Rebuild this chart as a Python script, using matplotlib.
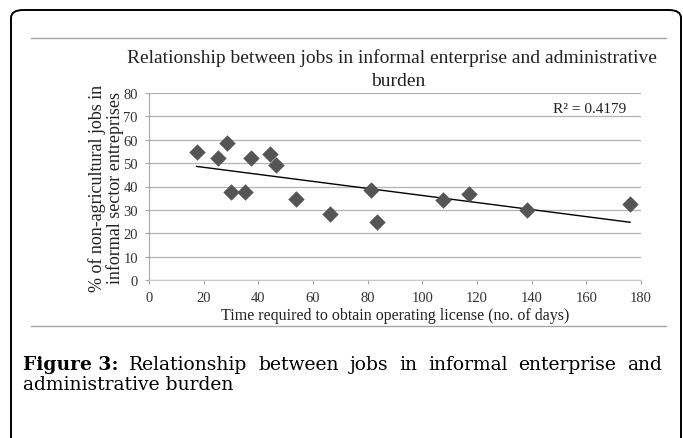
import numpy as np
import matplotlib.pyplot as plt
from matplotlib.patches import FancyBboxPatch
from matplotlib.lines import Line2D

# Days needed to get an operating license vs share of informal jobs
days = [17.4, 25.1, 28.4, 30.0, 35.2, 37.2, 44.2, 46.5, 53.9, 66.1, 81.1, 83.3,
        107.7, 117.1, 138.2, 176.0]
informal_pct = [54.6, 52.3, 58.6, 37.5, 37.5, 52.2, 53.9, 49.2, 34.7, 28.2, 38.5,
                24.7, 34.4, 36.8, 30.1, 32.5]
r2_text = "R² = 0.4179"
x_ticks = list(range(0, 181, 20))
y_ticks = list(range(0, 81, 10))

W, H = 683, 439
fig = plt.figure(figsize=(W / 100, H / 100), dpi=100)
serif = ["Liberation Serif", "DejaVu Serif"]
cap_font = ["DejaVu Serif"]

def fx(px):
    return px / W

def fy(py):
    return 1 - py / H

# outer frame with rounded corners (bottom runs off the page)
frame = FancyBboxPatch((fx(11), fy(470)), fx(670), (470 - 11) / H,
                       boxstyle="round,pad=0,rounding_size=0.018",
                       transform=fig.transFigure, fill=False,
                       edgecolor="black", linewidth=1.4, clip_on=False)
fig.patches.append(frame)

# thin rules above and below the chart
for py in (39, 327):
    fig.lines.append(Line2D([fx(31), fx(666)], [fy(py), fy(py)],
                            transform=fig.transFigure, color="#a6a6a6", lw=1.0))

ax = fig.add_axes([fx(149), fy(281), fx(641 - 149), (281 - 94) / H])
ax.scatter(days, informal_pct, marker="D", s=70, color="#555555", zorder=3,
           linewidths=0)

# linear trend line
k, b = np.polyfit(days, informal_pct, 1)
xs = np.array([min(days), max(days)])
ax.plot(xs, k * xs + b, color="black", lw=1.0, zorder=2)

ax.set_xlim(0, 180)
ax.set_ylim(0, 80)
ax.set_xticks(x_ticks)
ax.set_yticks(y_ticks)
ax.grid(axis="y", color="#b3b3b3", lw=0.9)
ax.set_axisbelow(True)
for s in ("top", "right"):
    ax.spines[s].set_visible(False)
ax.spines["left"].set_color("#a6a6a6")
ax.spines["bottom"].set_color("#c8c8c8")
ax.tick_params(axis="both", colors="#a6a6a6", length=3, width=0.8,
               labelcolor="#333333", labelsize=10.5)
ax.tick_params(axis="x", pad=5)
ax.tick_params(axis="y", pad=5)
for lab in ax.get_xticklabels() + ax.get_yticklabels():
    lab.set_family(serif)

ax.text(0.97, 0.918, r2_text, transform=ax.transAxes, ha="right", va="center",
        fontsize=11, family=serif, color="#222222")

fig.text(fx(392), fy(58), "Relationship between jobs in informal enterprise and administrative",
         ha="center", va="center", fontsize=14, family=serif, color="#222222")
fig.text(fx(398), fy(82), "burden", ha="center", va="center", fontsize=14,
         family=serif, color="#222222")
fig.text(fx(106), fy(188), "% of non-agricultural jobs in\ninformal sector entreprises",
         rotation=90, ha="center", va="center", fontsize=13, family=serif,
         color="#222222", linespacing=0.95)
fig.text(fx(395), fy(316), "Time required to obtain operating license (no. of days)",
         ha="center", va="center", fontsize=11.5, family=serif, color="#222222")

# caption, first line justified between the margins
words = ["Figure 3:", "Relationship", "between", "jobs", "in", "informal",
         "enterprise", "and"]
left, right = fx(23), fx(662)
texts = []
for i, w in enumerate(words):
    t = fig.text(left, fy(365), w, ha="left", va="center", fontsize=13.5,
                 family=cap_font, color="black",
                 fontweight="bold" if i == 0 else "normal")
    texts.append(t)
fig.canvas.draw()
r = fig.canvas.get_renderer()
widths = [t.get_window_extent(r).width / W for t in texts]
gap = (right - left - sum(widths)) / (len(words) - 1)
pos = left
for t, wd in zip(texts, widths):
    t.set_x(pos)
    pos += wd + gap
fig.text(left, fy(385), "administrative burden", ha="left", va="center",
         fontsize=13.5, family=cap_font, color="black")

fig.savefig("out.png", dpi=100)
